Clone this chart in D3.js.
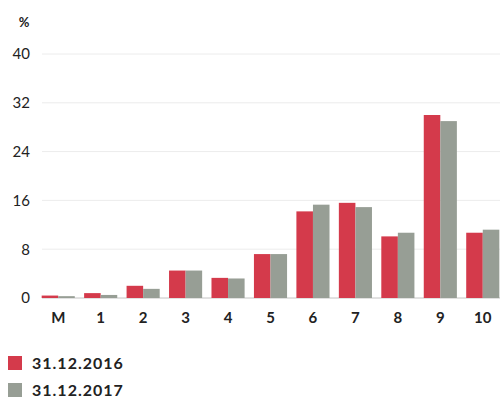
<!DOCTYPE html>
<html>
<head>
<meta charset="utf-8">
<script src="https://cdn.jsdelivr.net/npm/d3@7/dist/d3.min.js"></script>
<style>
  html, body { margin: 0; padding: 0; background: #fff; }
  svg { display: block; font-family: "Lato", "DejaVu Sans", sans-serif; }
</style>
</head>
<body>
<svg id="chart" width="500" height="399"></svg>
<script>
// Maturity buckets and the share (%) in each, at two reporting dates
const categories = ["M", "1", "2", "3", "4", "5", "6", "7", "8", "9", "10"];
const values2016 = [0.4, 0.8, 2.0, 4.5, 3.3, 7.2, 14.2, 15.6, 10.1, 30.0, 10.7];
const values2017 = [0.3, 0.5, 1.5, 4.5, 3.2, 7.2, 15.3, 14.9, 10.7, 29.0, 11.2];
const seriesNames = ["31.12.2016", "31.12.2017"];
const yTicks = [0, 8, 16, 24, 32, 40];

const colors = ["#d43a4b", "#979e95"];

const svg = d3.select("#chart");

const x = d3.scaleBand().domain(categories).range([37, 504]).paddingInner(0.22).paddingOuter(0.11);
const x1 = d3.scaleBand().domain([0, 1]).range([0, x.bandwidth()]);
const y = d3.scaleLinear().domain([0, 40]).range([298, 54]);

// Horizontal gridlines
svg.append("g")
  .selectAll("line")
  .data(yTicks)
  .join("line")
  .attr("x1", 42).attr("x2", 500)
  .attr("y1", d => y(d)).attr("y2", d => y(d))
  .attr("stroke", d => d === 0 ? "#c4c4c4" : "#ececec")
  .attr("stroke-width", 1);

// Y axis labels
const yAxis = d3.axisLeft(y).tickValues(yTicks).tickSize(0).tickPadding(0);
svg.append("g")
  .attr("transform", "translate(30,0)")
  .call(yAxis)
  .call(g => g.select(".domain").remove())
  .call(g => g.selectAll("text")
    .attr("fill", "#222")
    .attr("font-size", 15)
    .attr("font-family", "Lato, 'DejaVu Sans', sans-serif"));

// Unit label
svg.append("text")
  .attr("x", 24).attr("y", 27)
  .attr("text-anchor", "middle")
  .attr("font-size", 13)
  .attr("font-weight", "bold")
  .attr("fill", "#222")
  .text("%");

// Bars
const series = [values2016, values2017];
const groups = svg.append("g")
  .selectAll("g")
  .data(categories)
  .join("g")
  .attr("transform", d => `translate(${x(d)},0)`);

groups.selectAll("rect")
  .data((d, i) => series.map((s, k) => ({ k, v: s[i] })))
  .join("rect")
  .attr("x", d => x1(d.k))
  .attr("width", x1.bandwidth())
  .attr("y", d => y(d.v))
  .attr("height", d => y(0) - y(d.v))
  .attr("fill", d => colors[d.k]);

// X axis labels
const xAxis = d3.axisBottom(x).tickSize(0).tickPadding(0);
svg.append("g")
  .attr("transform", "translate(0,312)")
  .call(xAxis)
  .call(g => g.select(".domain").remove())
  .call(g => g.selectAll("text")
    .attr("fill", "#222")
    .attr("font-size", 15)
    .attr("font-weight", "bold")
    .attr("font-family", "Lato, 'DejaVu Sans', sans-serif"));

// Legend
const legend = svg.append("g")
  .selectAll("g")
  .data(seriesNames)
  .join("g")
  .attr("transform", (d, i) => `translate(8,${356 + i * 27})`);

legend.append("rect")
  .attr("width", 14).attr("height", 14)
  .attr("fill", (d, i) => colors[i]);

legend.append("text")
  .attr("x", 24).attr("y", 13)
  .attr("font-size", 16)
  .attr("font-weight", "bold")
  .attr("letter-spacing", 1)
  .attr("fill", "#222")
  .text(d => d);
</script>
</body>
</html>
